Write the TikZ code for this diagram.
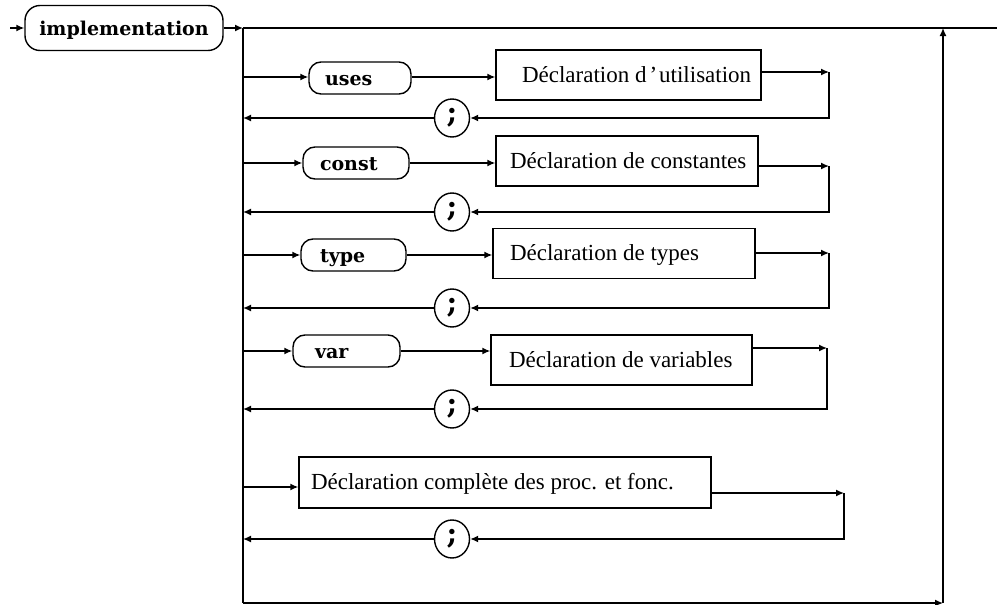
\documentclass[tikz,border=0pt]{standalone}
\usepackage{fontspec}
\setmainfont{Liberation Serif}
\newfontfamily\kwfont{DejaVu Serif}
\usetikzlibrary{arrows.meta,shapes.geometric}
\begin{document}
\begin{tikzpicture}[x=1pt,y=-1pt,line width=1.4pt,
  arr/.style={-{Latex[length=8pt,width=7pt]}},
  kw/.style={draw,rounded corners=12pt,minimum height=32pt,inner ysep=0pt,align=left,
    text height=15pt,text depth=0pt,
    font={\kwfont\bfseries\fontsize{19}{20}\selectfont}},
  declbox/.style={draw,minimum height=50pt,inner sep=0pt},
  decltext/.style={inner sep=0pt,anchor=west,text height=14pt,text depth=0pt,
    font={\fontsize{23}{26}\selectfont}},
  semi/.style={draw,ellipse,minimum width=35pt,minimum height=38pt,inner sep=0pt,
    font={\kwfont\bfseries\fontsize{29}{29}\selectfont}}]
\useasboundingbox (0,0) rectangle (997,605);

% main line
\coordinate (s) at (10,28);
\node[kw,minimum width=198pt,minimum height=45pt,rounded corners=15pt,inner xsep=0pt] (impl) at (124,28) {implementation};
\coordinate (J) at (243,28);
\coordinate (E) at (997,28);
\coordinate (RT) at (943,28);
\coordinate (BL) at (243,603);
\coordinate (BR) at (943,603);
\draw[arr] (s) -- (impl.west);
\draw[arr] (impl.east) -- (J);
\draw (J) -- (E);
\draw (J) -- (BL);
\draw[arr] (BL) -- (BR);
\draw[arr] (BR) -- (RT);

% row 1 : uses
\node[kw,text width=70pt,inner xsep=16pt] (uses) at (360,78) {uses};
\node[declbox,minimum width=265pt] (d1) at (628.5,75) {};
\node[decltext] (t1) at ([xshift=26pt]d1.west) {Déclaration d\kern3pt'\kern2ptutilisation};
\node[semi] (sc1) at (452,118) {;};
\coordinate (L1) at (243,77);
\coordinate (C1) at (829,72);
\coordinate (C1b) at (829,118);
\draw[arr] (L1) -- (L1 -| uses.west);
\draw[arr] (uses.east |- L1) -- (L1 -| d1.west);
\draw[arr] (d1.east |- C1) -- (C1);
\draw[arr] (C1) -- (C1b) -- (sc1.east);
\draw[arr] (sc1.west) -- (sc1.west -| J);

% row 2 : const
\node[kw,text width=72pt,inner xsep=17pt] (const) at (356,163) {const};
\node[declbox,minimum width=262pt] (d2) at (627,161) {};
\node[decltext] (t2) at ([xshift=14pt]d2.west) {Déclaration de constantes};
\node[semi] (sc2) at (452,212) {;};
\coordinate (L2) at (243,163);
\coordinate (C2) at (829,166);
\coordinate (C2b) at (829,212);
\draw[arr] (L2) -- (const.west);
\draw[arr] (const.east) -- (const.east -| d2.west);
\draw[arr] (d2.east |- C2) -- (C2);
\draw[arr] (C2) -- (C2b) -- (sc2.east);
\draw[arr] (sc2.west) -- (sc2.west -| J);

% row 3 : type
\node[kw,text width=67pt,inner xsep=19pt] (type) at (353.5,255) {type};
\node[declbox,minimum width=262pt] (d3) at (624,253.5) {};
\node[decltext] (t3) at ([xshift=17pt]d3.west) {Déclaration de types};
\node[semi] (sc3) at (452,308) {;};
\coordinate (L3) at (243,255);
\coordinate (C3) at (829,253);
\coordinate (C3b) at (829,308);
\draw[arr] (L3) -- (type.west);
\draw[arr] (type.east) -- (type.east -| d3.west);
\draw[arr] (d3.east |- C3) -- (C3);
\draw[arr] (C3) -- (C3b) -- (sc3.east);
\draw[arr] (sc3.west) -- (sc3.west -| J);

% row 4 : var
\node[kw,text width=63pt,inner xsep=22pt] (var) at (346.5,351) {var};
\node[declbox,minimum width=261pt] (d4) at (621.5,360) {};
\node[decltext] (t4) at ([xshift=18pt]d4.west) {Déclaration de variables};
\node[semi] (sc4) at (452,409) {;};
\coordinate (L4) at (243,351);
\coordinate (C4) at (827,348);
\coordinate (C4b) at (827,409);
\draw[arr] (L4) -- (var.west);
\draw[arr] (var.east) -- (var.east -| d4.west);
\draw[arr] (d4.east |- C4) -- (C4);
\draw[arr] (C4) -- (C4b) -- (sc4.east);
\draw[arr] (sc4.west) -- (sc4.west -| J);

% row 5 : procedures
\node[declbox,minimum width=412pt,minimum height=51pt] (d5) at (505,482.5) {};
\node[decltext] (t5) at ([xshift=12pt]d5.west) {Déclaration complète des proc. et fonc.};
\node[semi] (sc5) at (452,539) {;};
\coordinate (L5) at (243,487);
\coordinate (C5) at (844,493);
\coordinate (C5b) at (844,539);
\draw[arr] (L5) -- (L5 -| d5.west);
\draw[arr] (d5.east |- C5) -- (C5);
\draw[arr] (C5) -- (C5b) -- (sc5.east);
\draw[arr] (sc5.west) -- (sc5.west -| J);
\end{tikzpicture}
\end{document}
